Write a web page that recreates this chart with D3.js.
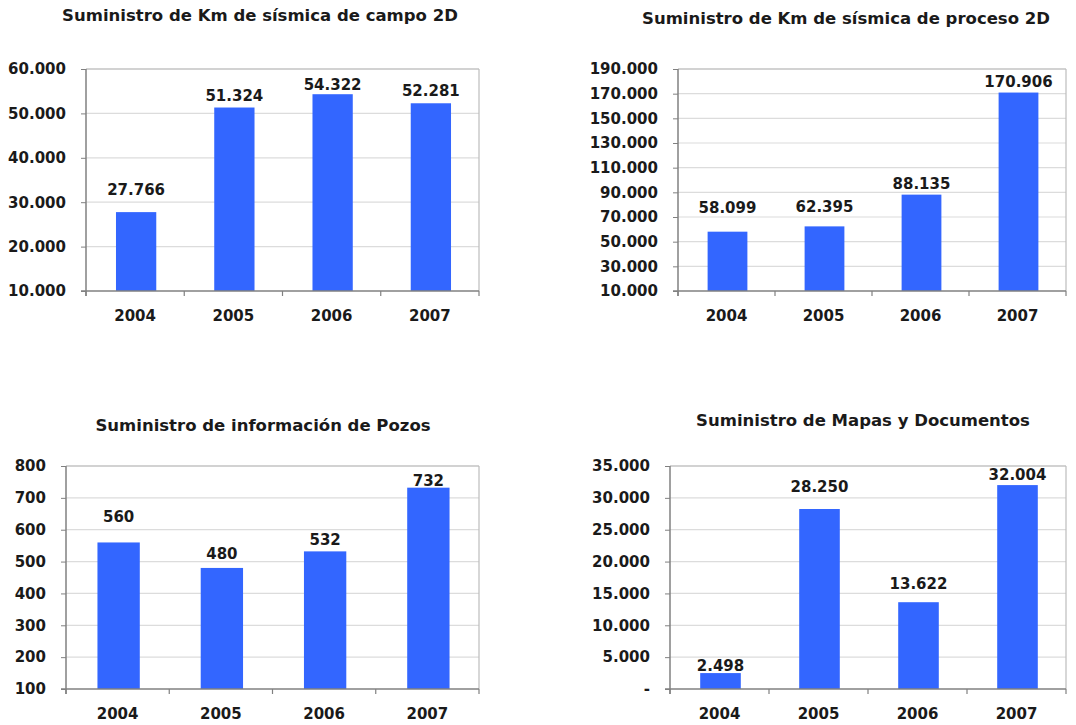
<!DOCTYPE html>
<html>
<head>
<meta charset="utf-8">
<script src="https://cdn.jsdelivr.net/npm/d3@7"></script>
<style>
  body { margin: 0; background: #fff; }
  text { font-family: "DejaVu Sans", Verdana, sans-serif; font-weight: bold; fill: #1a1a1a; }
</style>
</head>
<body>
<div id="my_dataviz"></div>
<script>
// data
var years = ["2004", "2005", "2006", "2007"];
var campo2D = [27766, 51324, 54322, 52281];
var proceso2D = [58099, 62395, 88135, 170906];
var pozos = [560, 480, 532, 732];
var mapas = [2498, 28250, 13622, 32004];

var campoTicks = [10000, 20000, 30000, 40000, 50000, 60000];
var procesoTicks = [10000, 30000, 50000, 70000, 90000, 110000, 130000, 150000, 170000, 190000];
var pozosTicks = [100, 200, 300, 400, 500, 600, 700, 800];
var mapasTicks = [0, 5000, 10000, 15000, 20000, 25000, 30000, 35000];

var es = d3.formatLocale({decimal: ",", thousands: ".", grouping: [3], currency: ["", ""]});
var fmt = function(v) { return v === 0 ? "-" : es.format(",d")(v); };

var svg = d3.select("#my_dataviz")
  .append("svg")
    .attr("width", 1076)
    .attr("height", 725);

// layout of the four panels (pixels)
var panels = [
  {title: "Suministro de Km de sísmica de campo 2D", values: campo2D, ticks: campoTicks,
   left: 86, right: 479, top: 69, bottom: 291, titleX: 260, titleY: 21, gaps: [17, 7, 4, 7]},
  {title: "Suministro de Km de sísmica de proceso 2D", values: proceso2D, ticks: procesoTicks,
   left: 678, right: 1066, top: 69, bottom: 291, titleX: 846, titleY: 24, gaps: [19, 14, 6, 6]},
  {title: "Suministro de información de Pozos", values: pozos, ticks: pozosTicks,
   left: 66, right: 479, top: 466, bottom: 689, titleX: 263, titleY: 431, gaps: [20, 9, 6, 2]},
  {title: "Suministro de Mapas y Documentos", values: mapas, ticks: mapasTicks,
   left: 670, right: 1066, top: 466, bottom: 689, titleX: 863, titleY: 426, gaps: [2, 17, 13, 5]}
];

panels.forEach(function(p) {
  var g = svg.append("g");

  var x = d3.scaleBand()
    .domain(years)
    .range([p.left, p.right])
    .padding(0);

  var y = d3.scaleLinear()
    .domain(d3.extent(p.ticks))
    .range([p.bottom, p.top]);

  // gridlines
  g.selectAll(".grid")
    .data(p.ticks.slice(1))
    .enter()
    .append("line")
      .attr("x1", p.left)
      .attr("x2", p.right)
      .attr("y1", function(d) { return y(d); })
      .attr("y2", function(d) { return y(d); })
      .attr("stroke", function(d, i) { return i === p.ticks.length - 2 ? "#a6a6a6" : "#dcdcdc"; })
      .attr("stroke-width", 1.2);

  // right border
  g.append("line")
    .attr("x1", p.right).attr("x2", p.right)
    .attr("y1", p.top).attr("y2", p.bottom)
    .attr("stroke", "#bdbdbd")
    .attr("stroke-width", 1.2);

  // bars
  var bw = x.bandwidth() * 0.41;
  g.selectAll("rect")
    .data(p.values)
    .enter()
    .append("rect")
      .attr("x", function(d, i) { return x(years[i]) + (x.bandwidth() - bw) / 2 + 1; })
      .attr("y", function(d) { return y(d); })
      .attr("width", bw)
      .attr("height", function(d) { return p.bottom - y(d); })
      .attr("fill", "#3366ff");

  // y axis
  var yAxis = g.append("g")
    .attr("transform", "translate(" + p.left + ",0)")
    .call(d3.axisLeft(y).tickValues(p.ticks).tickFormat(fmt).tickSize(5).tickPadding(15));
  yAxis.select(".domain").attr("stroke", "#808080").attr("stroke-width", 1.5).attr("d", "M0," + p.top + "V" + (p.bottom + 5));
  yAxis.selectAll(".tick line").attr("stroke", "#808080");
  yAxis.selectAll(".tick text")
    .attr("font-size", 15)
    .attr("font-family", null)
    .attr("fill", null);

  // x axis
  var xAxis = g.append("g")
    .attr("transform", "translate(0," + p.bottom + ")");
  xAxis.append("line")
    .attr("x1", p.left - 5).attr("x2", p.right)
    .attr("stroke", "#808080")
    .attr("stroke-width", 1.5);
  xAxis.selectAll(".xt")
    .data(years.concat(["end"]))
    .enter()
    .append("line")
      .attr("x1", function(d) { return d === "end" ? p.right : x(d); })
      .attr("x2", function(d) { return d === "end" ? p.right : x(d); })
      .attr("y1", 0)
      .attr("y2", 5)
      .attr("stroke", "#808080")
      .attr("stroke-width", 1.2);
  xAxis.selectAll(".xl")
    .data(years)
    .enter()
    .append("text")
      .attr("x", function(d) { return x(d) + x.bandwidth() / 2; })
      .attr("y", 30)
      .attr("text-anchor", "middle")
      .attr("font-size", 15)
      .text(function(d) { return d; });

  // value labels
  g.selectAll(".val")
    .data(p.values)
    .enter()
    .append("text")
      .attr("x", function(d, i) { return x(years[i]) + x.bandwidth() / 2 + 1; })
      .attr("y", function(d, i) { return y(d) - p.gaps[i]; })
      .attr("text-anchor", "middle")
      .attr("font-size", 15)
      .text(function(d) { return fmt(d); });

  // title
  g.append("text")
    .attr("x", p.titleX)
    .attr("y", p.titleY)
    .attr("text-anchor", "middle")
    .attr("font-size", 16.5)
    .text(p.title);
});
</script>
</body>
</html>
